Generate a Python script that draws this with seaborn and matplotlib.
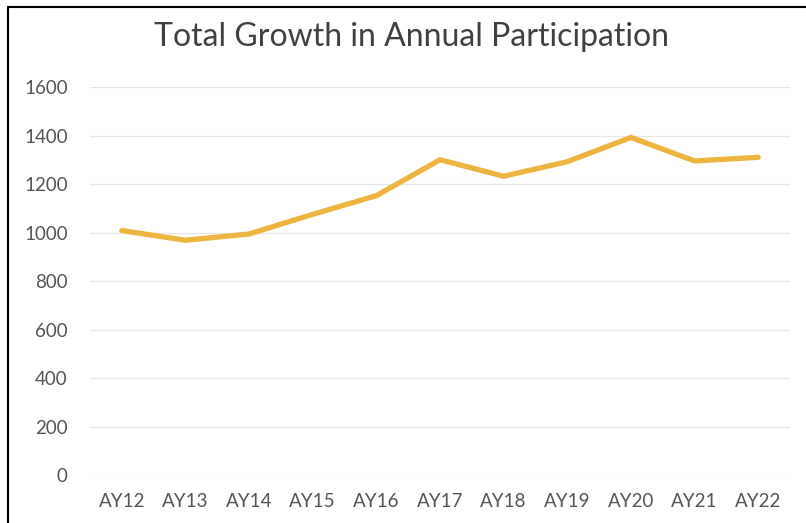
import pandas as pd
import numpy as np
import matplotlib
matplotlib.use("Agg")
import matplotlib.pyplot as plt
import seaborn as sns

years = ['AY12', 'AY13', 'AY14', 'AY15', 'AY16', 'AY17', 'AY18', 'AY19', 'AY20', 'AY21', 'AY22']
participants = [1008, 968, 994, 1075, 1152, 1300, 1232, 1292, 1392, 1295, 1310]
y_ticks = [0, 200, 400, 600, 800, 1000, 1200, 1400, 1600]

df = pd.DataFrame({'year': years, 'participants': participants})

sns.set_style('white')
plt.rcParams['font.family'] = ['Lato', 'DejaVu Sans']

fig = plt.figure(figsize=(8.06, 5.23), dpi=100)
ax = fig.add_axes([90/806, 1-475/523, 700/806, 388/523])

sns.lineplot(data=df, x='year', y='participants', color='#EEB43F', linewidth=3.8, ax=ax, sort=False)

ax.set_ylim(0, 1600)
ax.set_xlim(-0.5, len(years) - 0.5)
ax.set_yticks(y_ticks)
ax.yaxis.grid(True, color='#E6E6E6', linewidth=0.9)
ax.xaxis.grid(False)
for s in ax.spines.values():
    s.set_visible(False)
ax.tick_params(axis='both', length=0, labelsize=13.5, colors='#555555')
ax.tick_params(axis='y', pad=16)
ax.tick_params(axis='x', pad=13)
ax.set_xlabel('')
ax.set_ylabel('')

fig.text(411/806, 1-37/523, 'Total Growth in Annual Participation', ha='center', va='center',
         fontsize=23, color='#404040')

# frame edges visible in the scan
fig.add_artist(plt.Line2D([8/806, 8/806], [0, 1-7/523], color='black', linewidth=1.5))
fig.add_artist(plt.Line2D([8/806, 1], [1-7/523, 1-7/523], color='black', linewidth=1.5))

fig.savefig('out.png', dpi=100)
